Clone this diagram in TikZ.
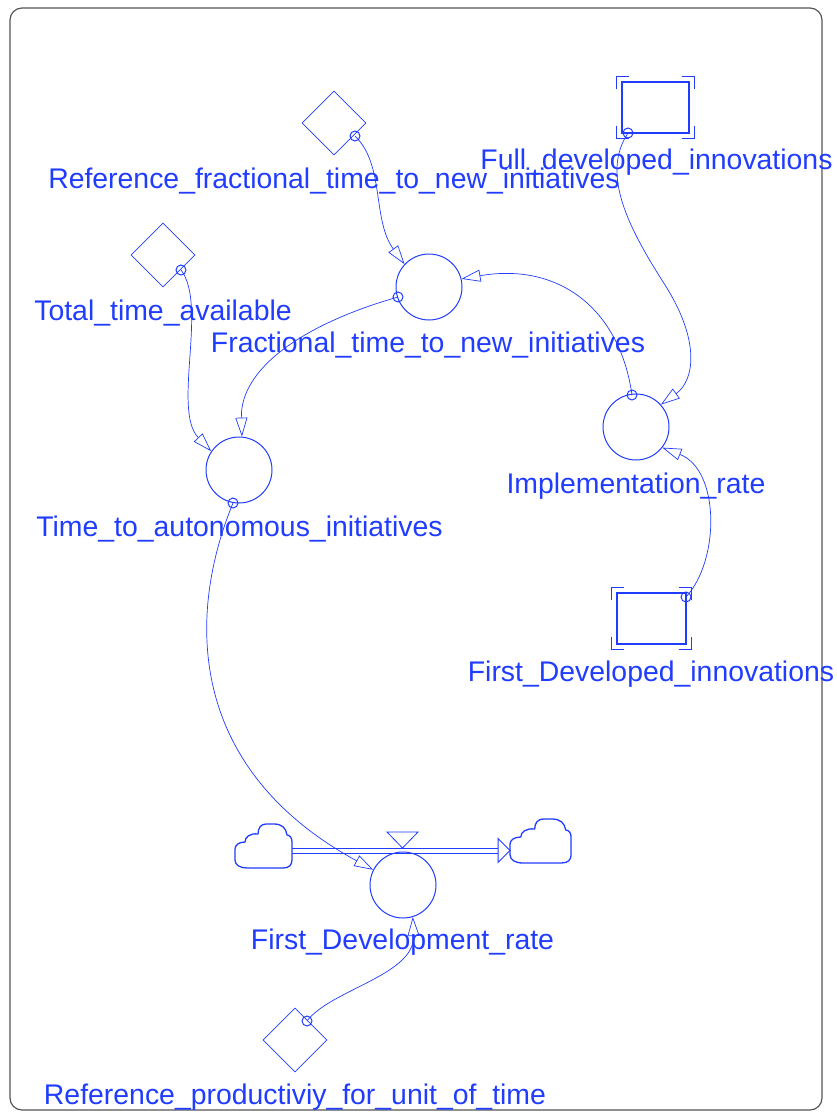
\documentclass[tikz,border=0pt]{standalone}
\usepackage{fontspec}
\setmainfont{Liberation Sans}
\usetikzlibrary{shapes.geometric,arrows.meta}
\definecolor{ink}{RGB}{32,60,255}
\definecolor{framegray}{RGB}{85,85,85}

\begin{document}
\begin{tikzpicture}[x=1pt,y=-1pt,
  lbl/.style={anchor=base, text=ink, inner sep=0pt, font=\fontsize{28.4}{34}\selectfont},
  aux/.style={diamond, draw=ink, line width=0.8pt, minimum size=64pt, inner sep=0pt},
  rate/.style={circle, draw=ink, line width=1pt, minimum size=66pt, inner sep=0pt},
  level/.style={rectangle, draw=ink, line width=1.1pt, minimum height=51pt, inner sep=0pt},
  tail/.style={circle, draw=ink, line width=1pt, minimum size=10pt, inner sep=0pt},
  link/.style={draw=ink, line width=0.7pt, -{Triangle[open, length=19pt, width=12pt]}},
  pipe/.style={draw=ink, line width=1pt},
  bracket/.style={draw=ink, line width=1.1pt},
  cloudline/.style={draw=ink, line width=1.3pt, line join=round},
]
\useasboundingbox (0,0) rectangle (836,1118);

% outer frame
\draw[framegray, line width=1.2pt, rounded corners=12pt] (10,8) rectangle (822,1110);

% auxiliaries
\node[aux] (refFrac) at (334,123) {};
\node[aux] (totTime) at (163,255) {};
\node[aux] (refProd) at (295,1040) {};

% rates
\node[rate] (frac) at (429,287) {};
\node[rate] (impl) at (636,427) {};
\node[rate] (tta)  at (239,470) {};
\node[rate] (fdr)  at (403,885) {};

% stocks with corner brackets
\node[level, minimum width=67pt] (fullDev)  at (655.5,107.5) {};
\node[level, minimum width=69pt] (firstDev) at (651.5,618.5) {};
\foreach \s in {fullDev, firstDev} {
  \draw[bracket] ([shift={(-5,8)}]\s.north west) -- ++(0,-13) -- ++(13,0);
  \draw[bracket] ([shift={(-8,-5)}]\s.north east) -- ++(13,0) -- ++(0,13);
  \draw[bracket] ([shift={(-5,-8)}]\s.south west) -- ++(0,13) -- ++(13,0);
  \draw[bracket] ([shift={(-8,5)}]\s.south east) -- ++(13,0) -- ++(0,-13);
}

% labels
\node[lbl] (lFull)  at (656.5,170) {Full\_developed\_innovations};
\node[lbl] (lRefF)  at (334,189)   {Reference\_fractional\_time\_to\_new\_initiatives};
\node[lbl] (lTot)   at (163,320)   {Total\_time\_available};
\node[lbl] (lFrac)  at (428,352)   {Fractional\_time\_to\_new\_initiatives};
\node[lbl] (lImpl)  at (636,493)   {Implementation\_rate};
\node[lbl] (lTta)   at (239.5,536) {Time\_to\_autonomous\_initiatives};
\node[lbl] (lFirst) at (651,681)   {First\_Developed\_innovations};
\node[lbl] (lFdr)   at (402.5,949) {First\_Development\_rate};
\node[lbl] (lProd)  at (295,1104)  {Reference\_productiviy\_for\_unit\_of\_time};

% flow: clouds, pipe, valve
\coordinate (srcCloud) at (234,823);
\coordinate (snkCloud) at (509,818);
\foreach \c/\sx in {srcCloud/1, snkCloud/1.07} {
  \draw[cloudline, shift={(\c)}, xscale=\sx]
    (13,45) -- (49,45) .. controls (55,45) and (58,42) .. (58,37) -- (58,19)
    .. controls (58,15) and (56,12) .. (53,12)
    .. controls (52,5) and (48,1) .. (40,1) -- (32,1)
    .. controls (27,1) and (24,5) .. (24,11)
    .. controls (16,10) and (11,14) .. (11,19)
    .. controls (5,19) and (1,22) .. (1,26) -- (1,37)
    .. controls (1,42) and (6,45) .. (13,45) -- cycle;
}
\coordinate (pipeIn)  at (292,850.5);
\coordinate (pipeEnd) at (498,850.5);
\coordinate (pipeTip) at (510,850.5);
\draw[pipe] ([yshift=2.5pt]pipeIn) -- ([yshift=2.5pt]pipeEnd);
\draw[pipe] ([yshift=-2.5pt]pipeIn) -- ([yshift=-2.5pt]pipeEnd);
\draw[pipe, fill=white, line join=miter] ([yshift=12pt]pipeEnd) -- (pipeTip) -- ([yshift=-12pt]pipeEnd) -- cycle;
\coordinate (valve) at (402.5,848);
\draw[draw=ink, line width=0.8pt] (valve) -- ++(-15.5,-16) -- ++(31,0) -- cycle;

% connector tails
\node[tail] (t1) at (355,136) {};
\node[tail] (t2) at (181,270) {};
\node[tail] (t3) at (628,133) {};
\node[tail] (t4) at (398,297) {};
\node[tail] (t5) at (632,395) {};
\node[tail] (t6) at (233,503) {};
\node[tail] (t7) at (686,597) {};
\node[tail] (t8) at (307,1021) {};

% connectors
\draw[link] (t1.center) .. controls (385,165) and (372,220) .. (frac.137);
\draw[link] (t5.center) .. controls (620,310) and (560,262) .. (frac.14);
\draw[link] (t4.center) .. controls (300,325) and (240,370) .. (tta.85);
\draw[link] (t2.center) .. controls (208,305) and (172,410) .. (tta.146);
\draw[link] (t6.center) .. controls (185,620) and (190,770) .. (fdr.153);
\draw[link] (t3.center) .. controls (600,175) and (630,230) .. (665,285)
                        .. controls (700,340) and (695,380) .. (impl.42);
\draw[link] (t7.center) .. controls (720,560) and (720,470) .. (impl.-38);
\draw[link] (t8.center) .. controls (330,990) and (415,975) .. (fdr.-73);
\end{tikzpicture}
\end{document}
